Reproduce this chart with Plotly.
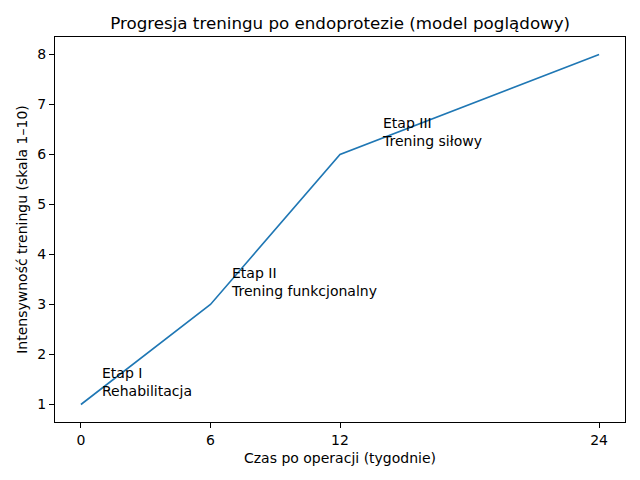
import plotly.graph_objects as go

# data
weeks = [0, 6, 12, 24]
intensity = [1, 3, 6, 8]
stage_x = [1, 7, 14]
stage_y = [1.5, 3.5, 6.5]
stage_labels = ["Etap I<br>Rehabilitacja", "Etap II<br>Trening funkcjonalny", "Etap III<br>Trening siłowy"]
x_ticks = [0, 6, 12, 24]
y_ticks = [1, 2, 3, 4, 5, 6, 7, 8]

fig = go.Figure()
fig.add_trace(go.Scatter(x=weeks, y=intensity, mode="lines",
                         line=dict(color="#1f77b4", width=1.6), showlegend=False))

for x, y, t in zip(stage_x, stage_y, stage_labels):
    fig.add_annotation(x=x, y=y, text=t, showarrow=False, xanchor="left", yanchor="middle",
                       align="left", xshift=-3, yshift=-2, font=dict(size=14, color="black"))

axis = dict(showline=True, linecolor="black", linewidth=1, mirror=True, ticks="outside",
            ticklen=5, tickcolor="black", showgrid=False, zeroline=False, automargin=False,
            tickfont=dict(size=14, color="black"))

# page body adds an 8px offset, so margins are shifted to compensate
fig.update_layout(
    width=640, height=480,
    margin=dict(l=47, r=23, t=29, b=66),
    paper_bgcolor="white", plot_bgcolor="white",
    font=dict(family="DejaVu Sans", color="black"),
    title=dict(text="Progresja treningu po endoprotezie (model poglądowy)", x=0.519, xanchor="center",
               y=0.969, yanchor="middle", font=dict(size=16.7)),
    xaxis=dict(axis, range=[-1.2, 25.2], tickvals=x_ticks,
               title=dict(text="Czas po operacji (tygodnie)", font=dict(size=14), standoff=6)),
    yaxis=dict(axis, range=[0.65, 8.35], tickvals=y_ticks,
               title=dict(text="Intensywność treningu (skala 1–10)", font=dict(size=14), standoff=6)),
)

fig.write_html("out.html")
